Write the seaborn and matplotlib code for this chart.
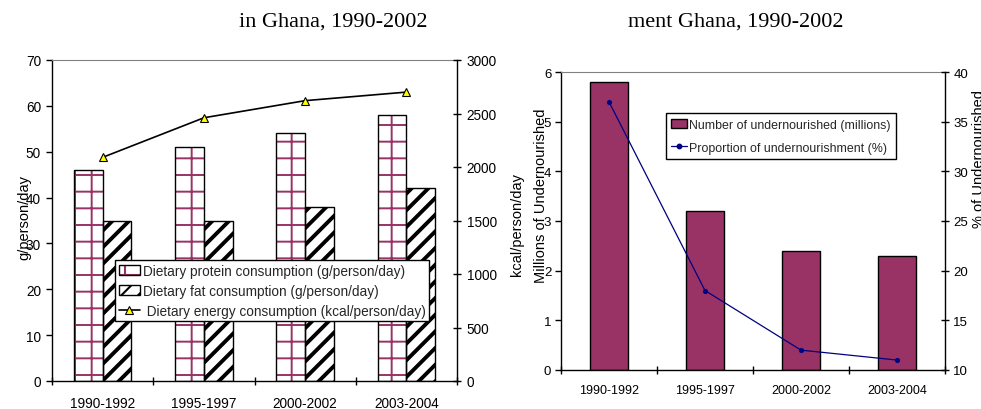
import numpy as np
import pandas as pd
import matplotlib
matplotlib.use("Agg")
import matplotlib.pyplot as plt
import seaborn as sns
from matplotlib.patches import Patch, Rectangle
from matplotlib.lines import Line2D

# ---- data -------------------------------------------------------------
periods = ["1990-1992", "1995-1997", "2000-2002", "2003-2004"]
protein_g = [46, 51, 54, 58]
fat_g = [35, 35, 38, 42]
energy_kcal = [2090, 2460, 2620, 2700]
undernourished_millions = [5.8, 3.2, 2.4, 2.3]
undernourished_pct = [37, 18, 12, 11]

protein_label = "Dietary protein consumption (g/person/day)"
fat_label = "Dietary fat consumption (g/person/day)"
energy_label = " Dietary energy consumption (kcal/person/day)"
number_label = "Number of undernourished (millions)"
share_label = "Proportion of undernourishment (%)"

left_title = "in Ghana, 1990-2002"
right_title = "ment Ghana, 1990-2002"

# ---- style ------------------------------------------------------------
sns.set_theme(style="white")
plt.rcParams["font.family"] = ["Liberation Sans", "DejaVu Sans"]
plt.rcParams["hatch.linewidth"] = 1.5
plt.rcParams["axes.linewidth"] = 1.0

PLUM = "#993366"
NAVY = "#000080"
LEFT_FS = 9.8
RIGHT_FS = 9
LABEL_FS = 10.5

fig = plt.figure(figsize=(9.81, 4.10), dpi=100)
ax1 = fig.add_axes([52 / 981, 28 / 410, 405 / 981, 321 / 410])
ax3 = fig.add_axes([561 / 981, 39 / 410, 384 / 981, 298 / 410])


def category_ticks(ax, pad, size):
    ax.set_xlim(-0.5, len(periods) - 0.5)
    ax.set_xticks(np.arange(-0.5, len(periods), 1.0))
    ax.set_xticklabels([])
    ax.set_xticks(np.arange(len(periods)), labels=periods, minor=True)
    ax.tick_params(axis="x", which="major", bottom=True, direction="inout",
                   length=6, width=1, color="black")
    ax.tick_params(axis="x", which="minor", bottom=True, length=0,
                   pad=pad, labelsize=size, labelcolor="black")
    ax.set_xlabel("")


def frame(ax, twin):
    ax.spines["top"].set_color("#808080")
    ax.spines["top"].set_linewidth(0.8)
    ax.spines["left"].set_color("black")
    ax.spines["bottom"].set_color("black")
    ax.spines["right"].set_visible(False)
    for side in ("top", "left", "bottom"):
        twin.spines[side].set_visible(False)
    twin.spines["right"].set_color("black")


# ---- left panel: dietary consumption ----------------------------------
diet = pd.DataFrame({
    "period": periods * 2,
    "grams": protein_g + fat_g,
    "nutrient": [protein_label] * len(periods) + [fat_label] * len(periods),
})
sns.barplot(data=diet, x="period", y="grams", hue="nutrient",
            hue_order=[protein_label, fat_label], palette=["white", "white"],
            saturation=1, width=0.57, gap=0, ax=ax1, legend=False,
            edgecolor="black", linewidth=1.0)

bars = list(ax1.patches)
n = len(periods)
for p in bars[:n]:
    p.set_hatch("+")
    p.set_edgecolor(PLUM)
    p.set_linewidth(0)
    if hasattr(p, "set_hatch_linewidth"):
        p.set_hatch_linewidth(1.4)
    ax1.add_patch(Rectangle((p.get_x(), p.get_y()), p.get_width(), p.get_height(),
                            fill=False, edgecolor="black", linewidth=1.0,
                            zorder=p.get_zorder() + 0.1))
for p in bars[n:]:
    p.set_hatch("//")
    p.set_edgecolor("black")
    p.set_linewidth(1.0)
    if hasattr(p, "set_hatch_linewidth"):
        p.set_hatch_linewidth(2.8)

ax2 = ax1.twinx()
sns.pointplot(x=periods, y=energy_kcal, ax=ax2, color="black", markers="^",
              linestyles="-", errorbar=None, linewidth=1.2, markersize=6,
              markeredgewidth=0.8)
for ln in ax2.lines:
    ln.set_markerfacecolor("#FFFF00")
    ln.set_markeredgecolor("black")
    ln.set_zorder(5)

ax1.set_ylim(0, 70)
ax1.set_yticks(np.arange(0, 71, 10))
ax2.set_ylim(0, 3000)
ax2.set_yticks(np.arange(0, 3001, 500))
category_ticks(ax1, pad=10.5, size=LEFT_FS)
ax1.tick_params(axis="y", left=True, direction="out", length=4, width=1,
                color="black", labelsize=LEFT_FS, pad=4, labelcolor="black")
ax2.tick_params(axis="y", right=True, direction="inout", length=6, width=1,
                color="black", labelsize=LEFT_FS, pad=4, labelcolor="black")
frame(ax1, ax2)

ax1.set_ylabel("g/person/day", fontsize=LABEL_FS, color="black")
ax1.yaxis.set_label_coords(-0.052, 0.514)
ax2.set_ylabel("kcal/person/day", fontsize=LABEL_FS, color="black")
ax2.yaxis.set_label_coords(1.131, 0.492)

left_handles = [
    (Patch(facecolor="white", edgecolor=PLUM, hatch="+", linewidth=0),
     Patch(fill=False, edgecolor="black", linewidth=1.0)),
    Patch(facecolor="white", edgecolor="black", hatch="//", linewidth=1.0),
    Line2D([], [], color="black", linewidth=1.2, marker="^", markersize=6,
           markerfacecolor="#FFFF00", markeredgecolor="black", markeredgewidth=0.8),
]
leg1 = ax2.legend(left_handles, [protein_label, fat_label, energy_label],
                  loc="upper left", bbox_to_anchor=(0.156, 0.376),
                  fontsize=LEFT_FS, frameon=True, fancybox=False, framealpha=1,
                  edgecolor="black", borderpad=0.25, labelspacing=0.45,
                  handlelength=1.6, handleheight=0.8, handletextpad=0.2,
                  borderaxespad=0)
leg1.get_frame().set_linewidth(1.0)
leg1.set_zorder(10)

# ---- right panel: undernourishment ------------------------------------
sns.barplot(x=periods, y=undernourished_millions, ax=ax3, color=PLUM,
            saturation=1, width=0.4, edgecolor="black", linewidth=1.0)
ax4 = ax3.twinx()
sns.pointplot(x=periods, y=undernourished_pct, ax=ax4, color=NAVY,
              markers="o", linestyles="-", errorbar=None, linewidth=0.9,
              markersize=3.2, markeredgewidth=0.5)
for ln in ax4.lines:
    ln.set_zorder(5)

ax3.set_ylim(0, 6)
ax3.set_yticks(np.arange(0, 7, 1))
ax4.set_ylim(10, 40)
ax4.set_yticks(np.arange(10, 41, 5))
category_ticks(ax3, pad=10, size=RIGHT_FS)
ax3.tick_params(axis="y", left=True, direction="out", length=4, width=1,
                color="black", labelsize=RIGHT_FS + 0.5, pad=3, labelcolor="black")
ax4.tick_params(axis="y", right=True, direction="inout", length=6, width=1,
                color="black", labelsize=RIGHT_FS + 0.5, pad=3, labelcolor="black")
frame(ax3, ax4)

ax3.set_ylabel("Millions of Undernourished", fontsize=LABEL_FS, color="black")
ax3.yaxis.set_label_coords(-0.034, 0.587)
ax4.set_ylabel("% of Undernourished", fontsize=LABEL_FS, color="black")
ax4.yaxis.set_label_coords(1.070, 0.71)

right_handles = [
    Patch(facecolor=PLUM, edgecolor="black", linewidth=1.0),
    Line2D([], [], color=NAVY, linewidth=0.9, marker="o", markersize=3.2),
]
leg2 = ax4.legend(right_handles, [number_label, share_label],
                  loc="upper left", bbox_to_anchor=(0.273, 0.862),
                  fontsize=8.9, frameon=True, fancybox=False, framealpha=1,
                  edgecolor="black", borderpad=0.45, labelspacing=0.9,
                  handlelength=1.3, handleheight=0.75, handletextpad=0.15,
                  borderaxespad=0)
leg2.get_frame().set_linewidth(1.0)

# ---- titles -----------------------------------------------------------
fig.text(333 / 981, 1 - 27 / 410, left_title, ha="center", va="baseline",
         family=["Liberation Serif", "DejaVu Serif"], fontsize=16, color="black")
fig.text(735.5 / 981, 1 - 27 / 410, right_title, ha="center", va="baseline",
         family=["Liberation Serif", "DejaVu Serif"], fontsize=16, color="black")

fig.savefig("out.png", dpi=100, facecolor="white")
